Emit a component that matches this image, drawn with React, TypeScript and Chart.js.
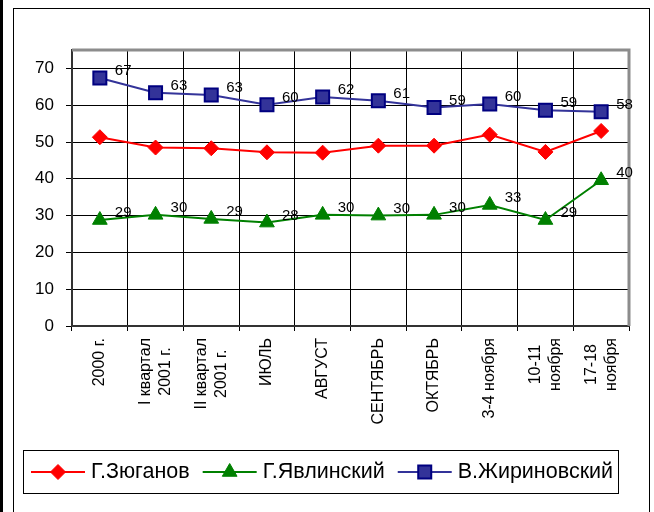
import React, { useEffect, useRef } from 'react';
import { Chart, registerables } from 'chart.js';

Chart.register(...registerables);

const categories: (string | string[])[] = [
  '2000 г.',
  ['I квартал', '2001 г.'],
  ['II квартал', '2001 г.'],
  'ИЮЛЬ',
  'АВГУСТ',
  'СЕНТЯБРЬ',
  'ОКТЯБРЬ',
  '3-4 ноября',
  ['10-11', 'ноября'],
  ['17-18', 'ноября'],
];
const zyuganov = [51.3, 48.5, 48.3, 47.2, 47.1, 49.0, 49.0, 52.0, 47.3, 53.0];
const yavlinsky = [28.8, 30.2, 29.1, 28.1, 30.2, 30.0, 30.2, 32.9, 28.8, 39.6];
const zhirinovsky = [67.4, 63.4, 62.8, 60.1, 62.2, 61.2, 59.4, 60.3, 58.6, 58.2];
const seriesNames = ['Г.Зюганов', 'Г.Явлинский', 'В.Жириновский'];
const yTicks = [0, 10, 20, 30, 40, 50, 60, 70];
const labeledSeries = [1, 2];

const FONT = '"Liberation Sans", Arial, sans-serif';

function drawMarker(ctx: CanvasRenderingContext2D, style: string, x: number, y: number, r: number, fill: string, stroke: string, bw: number) {
  ctx.save();
  ctx.beginPath();
  if (style === 'rectRot') {
    ctx.moveTo(x - r, y);
    ctx.lineTo(x, y - r);
    ctx.lineTo(x + r, y);
    ctx.lineTo(x, y + r);
    ctx.closePath();
  } else if (style === 'triangle') {
    const a = (Math.PI * 2) / 3;
    ctx.moveTo(x, y - r);
    ctx.lineTo(x + Math.sin(a) * r, y - Math.cos(a) * r);
    ctx.lineTo(x + Math.sin(-a) * r, y - Math.cos(-a) * r);
    ctx.closePath();
  } else {
    const s = Math.SQRT1_2 * r;
    ctx.rect(x - s, y - s, 2 * s, 2 * s);
  }
  ctx.fillStyle = fill;
  ctx.fill();
  ctx.lineWidth = bw;
  ctx.strokeStyle = stroke;
  ctx.stroke();
  ctx.restore();
}

const framePlugin = {
  id: 'frame',
  beforeDraw(chart: any) {
    const ctx = chart.ctx as CanvasRenderingContext2D;
    ctx.save();
    ctx.fillStyle = '#ffffff';
    ctx.fillRect(0, 0, chart.width, chart.height);
    ctx.fillStyle = '#000000';
    ctx.fillRect(0, 0, 3, chart.height);
    ctx.strokeStyle = '#000000';
    ctx.lineWidth = 1;
    ctx.strokeRect(13.5, 8.5, 636, chart.height + 20);
    ctx.restore();
  },
  beforeDatasetsDraw(chart: any) {
    const ctx = chart.ctx as CanvasRenderingContext2D;
    const { left, top, right, bottom } = chart.chartArea;
    ctx.save();
    ctx.strokeStyle = '#8c8c8c';
    ctx.lineWidth = 3;
    ctx.beginPath();
    ctx.moveTo(left, top);
    ctx.lineTo(right, top);
    ctx.lineTo(right, bottom);
    ctx.stroke();
    ctx.restore();
  },
};

const xLabelPlugin = {
  id: 'xLabels',
  afterDraw(chart: any) {
    const ctx = chart.ctx as CanvasRenderingContext2D;
    const scale = chart.scales.x;
    const top = chart.chartArea.bottom + 12;
    const lh = 20;
    ctx.save();
    ctx.font = `16px ${FONT}`;
    ctx.fillStyle = '#000';
    ctx.textAlign = 'center';
    ctx.textBaseline = 'middle';
    (chart.data.labels as (string | string[])[]).forEach((lab, i) => {
      const lines = Array.isArray(lab) ? lab : [lab];
      const maxW = Math.max(...lines.map((l) => ctx.measureText(l).width));
      const x = scale.getPixelForValue(i);
      const cy = top + maxW / 2;
      lines.forEach((line, j) => {
        const off = (j - (lines.length - 1) / 2) * lh;
        ctx.save();
        ctx.translate(x + off, cy);
        ctx.rotate(-Math.PI / 2);
        ctx.fillText(line, 0, 0);
        ctx.restore();
      });
    });
    ctx.restore();
  },
};

const labelPlugin = {
  id: 'valueLabels',
  afterDatasetsDraw(chart: any) {
    const ctx = chart.ctx as CanvasRenderingContext2D;
    ctx.save();
    ctx.font = `15px ${FONT}`;
    ctx.fillStyle = '#000';
    ctx.textAlign = 'left';
    ctx.textBaseline = 'middle';
    labeledSeries.forEach((di) => {
      const meta = chart.getDatasetMeta(di);
      const data = chart.data.datasets[di].data as number[];
      meta.data.forEach((pt: any, i: number) => {
        ctx.fillText(String(Math.round(data[i])), pt.x + 15, pt.y - 7);
      });
    });
    ctx.restore();
  },
};

const legendPlugin = {
  id: 'boxLegend',
  afterDraw(chart: any) {
    const ctx = chart.ctx as CanvasRenderingContext2D;
    ctx.save();
    ctx.strokeStyle = '#000';
    ctx.lineWidth = 1;
    ctx.strokeRect(23.5, 450.5, 595, 43);
    ctx.font = `21.5px ${FONT}`;
    ctx.textBaseline = 'middle';
    ctx.textAlign = 'left';
    const cy = 472;
    let x = 31;
    chart.data.datasets.forEach((ds: any) => {
      const lineLen = 54;
      ctx.strokeStyle = ds.borderColor;
      ctx.lineWidth = 2;
      ctx.beginPath();
      ctx.moveTo(x, cy);
      ctx.lineTo(x + lineLen, cy);
      ctx.stroke();
      drawMarker(ctx, ds.pointStyle, x + lineLen / 2, cy, ds.pointRadius, ds.pointBackgroundColor, ds.pointBorderColor, ds.pointBorderWidth);
      ctx.fillStyle = '#000';
      const tx = x + lineLen + 6;
      ctx.fillText(ds.label, tx, cy);
      x = tx + ctx.measureText(ds.label).width + 13;
    });
    ctx.restore();
  },
};

export default function App() {
  const ref = useRef<HTMLCanvasElement | null>(null);
  useEffect(() => {
    if (!ref.current) return;
    const chart = new Chart(ref.current, {
      type: 'line',
      data: {
        labels: categories as any,
        datasets: [
          {
            label: seriesNames[0],
            data: zyuganov,
            borderColor: '#ff0000',
            borderWidth: 2,
            pointStyle: 'rectRot',
            pointRadius: 7.5,
            pointBackgroundColor: '#ff0000',
            pointBorderColor: '#ff0000',
            pointBorderWidth: 1,
            tension: 0,
          } as any,
          {
            label: seriesNames[1],
            data: yavlinsky,
            borderColor: '#008000',
            borderWidth: 2,
            pointStyle: 'triangle',
            pointRadius: 8.5,
            pointBackgroundColor: '#008000',
            pointBorderColor: '#008000',
            pointBorderWidth: 1,
            tension: 0,
          } as any,
          {
            label: seriesNames[2],
            data: zhirinovsky,
            borderColor: '#333399',
            borderWidth: 2,
            pointStyle: 'rect',
            pointRadius: 9.2,
            pointBackgroundColor: '#333399',
            pointBorderColor: '#000080',
            pointBorderWidth: 2,
            tension: 0,
          } as any,
        ],
      },
      options: {
        responsive: false,
        animation: false,
        layout: { padding: { top: 50, right: 25, left: 0, bottom: 0 } },
        plugins: {
          legend: { display: false },
          tooltip: { enabled: false },
        },
        scales: {
          x: {
            offset: true,
            grid: { offset: true, color: '#000', lineWidth: 1, tickLength: 5, drawTicks: true },
            border: { color: '#333', width: 2 },
            ticks: { display: false, autoSkip: false },
            afterFit: (scale: any) => {
              scale.height = 186;
            },
          },
          y: {
            min: 0,
            max: 75,
            grid: { color: '#000', lineWidth: 1, tickLength: 6, drawTicks: true },
            border: { color: '#333', width: 2 },
            ticks: {
              padding: 12,
              color: '#000',
              font: { family: FONT, size: 17 },
            },
            afterBuildTicks: (scale: any) => {
              scale.ticks = yTicks.map((v) => ({ value: v }));
            },
            afterFit: (scale: any) => {
              scale.width = 72;
            },
          },
        },
      },
      plugins: [framePlugin, labelPlugin, xLabelPlugin, legendPlugin],
    });
    return () => chart.destroy();
  }, []);
  return (
    <div style={{ position: 'absolute', left: 0, top: 0, width: 654, height: 512 }}>
      <canvas ref={ref} width={654} height={512} style={{ display: 'block' }} />
    </div>
  );
}
